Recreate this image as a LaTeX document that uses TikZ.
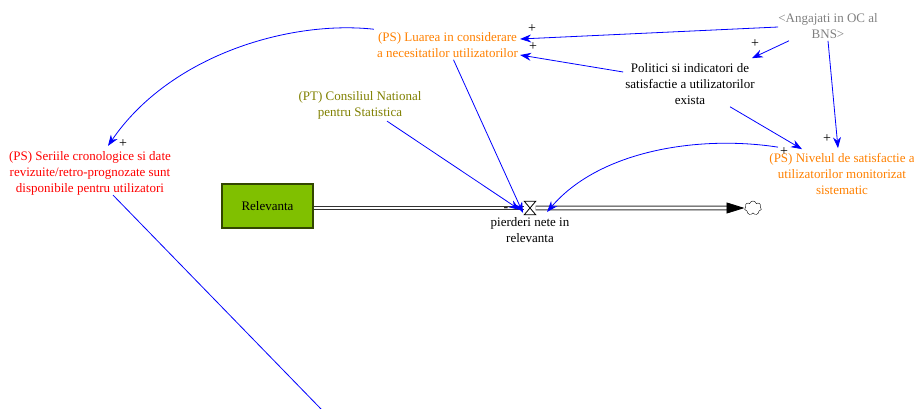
\documentclass[tikz,border=0pt]{standalone}
\usepackage{fontspec}
\setmainfont{Liberation Serif}
\usetikzlibrary{arrows.meta, positioning, shapes.symbols, calc}

\definecolor{vorange}{RGB}{255,128,0}
\definecolor{volive}{RGB}{128,128,0}
\definecolor{vgray}{RGB}{128,128,128}
\definecolor{vgreen}{RGB}{128,192,0}
\definecolor{vborder}{RGB}{50,70,0}

\begin{document}
\begin{tikzpicture}[
    x=1pt, y=-1pt,
    every node/.style={align=center, font=\fontsize{13}{16}\selectfont, inner sep=2pt},
    stock/.style={draw=vborder, line width=1.2pt, fill=vgreen, minimum width=91pt, minimum height=44pt},
    valve/.style={minimum width=11pt, minimum height=13pt, inner sep=0pt},
    sink/.style={shape=cloud, cloud puffs=7, draw, fill=white, minimum width=17pt, minimum height=14pt, inner sep=0pt},
    pipe/.style={draw=black!80, double=white, double distance=2.6pt, line width=1pt},
    link/.style={draw=blue, line width=0.8pt, -{Stealth[length=11pt, width=8pt]}},
    pol/.style={font=\fontsize{14}{14}\selectfont, inner sep=0pt}
]
\useasboundingbox (0,0) rectangle (914,408);

% variables
\node[text=vgray] (angajati) at (828,26) {<Angajati in OC al\\BNS>};
\node[text=vorange] (luarea) at (447.5,45) {(PS) Luarea in considerare\\a necesitatilor utilizatorilor};
\node (politici) at (690,84) {Politici si indicatori de\\satisfactie a utilizatorilor\\exista};
\node[text=volive] (consiliul) at (360,105) {(PT) Consiliul National\\pentru Statistica};
\node[text=red] (seriile) at (90,173) {(PS) Seriile cronologice si date\\revizuite/retro-prognozate sunt\\disponibile pentru utilizatori};
\node[text=vorange] (nivelul) at (842,174) {(PS) Nivelul de satisfactie a\\utilizatorilor monitorizat\\sistematic};

% stock and flow
\node[stock] (relevanta) at (267.5,206) {Relevanta};
\node[valve] (valve) at (530,208) {};
\node[below=1pt of valve] (pierderi) {pierderi nete in\\relevanta};
\node[sink] (sink) at (753,208) {};
\coordinate (out) at (322,410);

\draw[pipe] (relevanta.east |- valve.center) -- (valve.west);
\draw[pipe] (valve.east) -- ($(sink.west)+(-16,0)$);
\draw[-{Triangle[length=18pt, width=11pt]}, line width=0.8pt] ($(sink.west)+(-18,0)$) -- (sink.west);
\draw[fill=white, line width=0.8pt] (valve.north west) -- (valve.north east) -- (valve.south west) -- (valve.south east) -- cycle;

% links
\draw[link] ($(angajati.west)+(2,1)$) -- ($(luarea.east)+(0,-6)$);
\draw[link] ($(angajati.south)+(-39,0)$) -- ($(politici.north east)+(-5,-3)$);
\draw[link] (angajati.south) -- ($(nivelul.north)+(-4,-3)$);
\draw[link] ($(politici.west)+(0,-12)$) -- ($(luarea.east)+(0,10)$);
\draw[link] ($(politici.south)+(40,0)$) -- ($(nivelul.north)+(-40,-2)$);
\draw[link] ($(luarea.south)+(6,0)$) -- ($(valve)+(-7,5)$);
\draw[link] ($(consiliul.south)+(27,0)$) -- ($(valve)+(-10,2)$);
\draw[link] ($(nivelul.north)+(-64,-4)$) .. controls (700,135) and (600,150) .. ($(valve)+(17,4)$);
\draw[link] ($(luarea.north west)+(-1,-1)$) .. controls (290,20) and (170,55) .. ($(seriile.north)+(18,-3)$);
\draw[draw=blue, line width=0.8pt] ($(seriile.south)+(23,-2)$) -- (out);

% polarities
\node[pol] at (532,29) {+};
\node[pol] at (533,47) {+};
\node[pol] at (755,44) {+};
\node[pol] at (827,139) {+};
\node[pol] at (784,152) {+};
\node[pol] at (123,144) {+};
\node[pol] at (506,210) {-};
\end{tikzpicture}
\end{document}
